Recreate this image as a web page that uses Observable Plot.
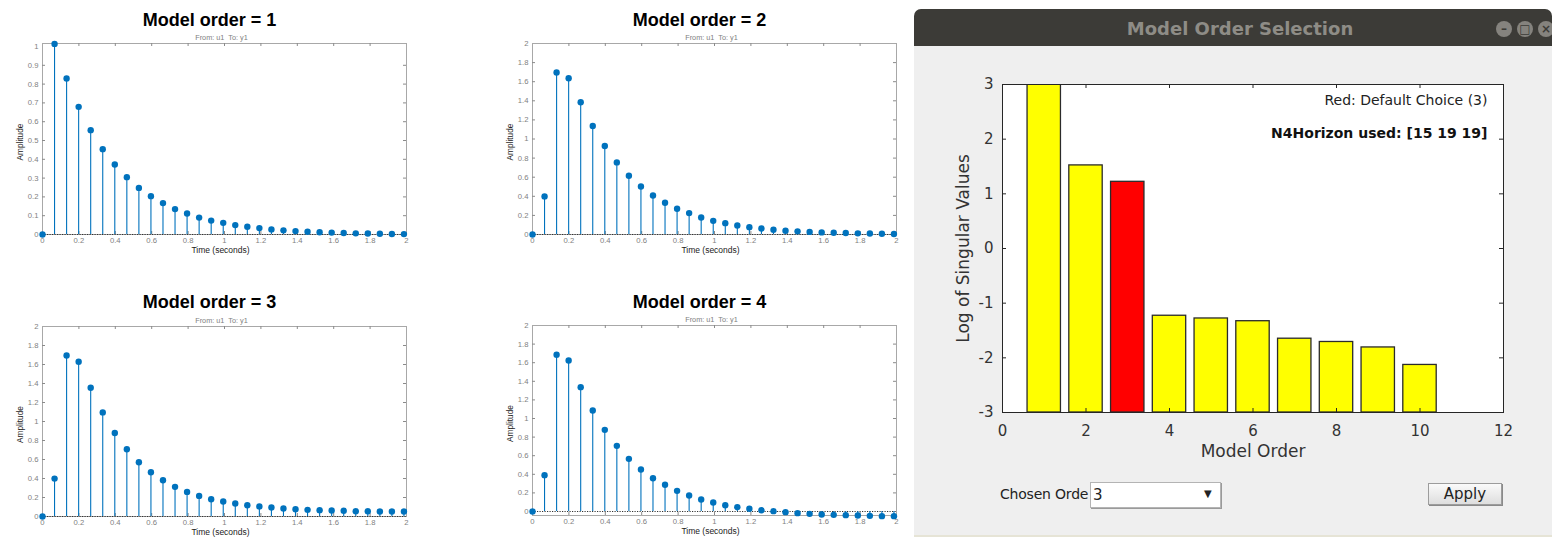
<!DOCTYPE html>
<html>
<head>
<meta charset="utf-8">
<script src="https://cdn.jsdelivr.net/npm/d3@7"></script>
<script src="https://cdn.jsdelivr.net/npm/@observablehq/plot@0.6"></script>
<style>
  html, body { margin: 0; padding: 0; background: #ffffff; }
  body { width: 1552px; height: 538px; position: relative; overflow: hidden; }
  .abs { position: absolute; }
  .win { left: 914px; top: 9px; width: 638px; height: 526px; background: #efefef; border-radius: 7px 7px 0 0; border-bottom: 2px solid #e6e4d6; }
  .titlebar { left: 0; top: 0; width: 638px; height: 37px; background: #3c3b37; border-radius: 7px 7px 0 0;
    color: #8e8c86; font: bold 18px "DejaVu Sans", sans-serif; text-align: center; line-height: 40px; }
  .titlebar span.t { position: absolute; left: 0; width: 652px; top: 0; text-align: center; }
  .btn { position: absolute; top: 12px; width: 16px; height: 16px; border-radius: 50%; background: #85837e;
    color: #3c3b37; font: bold 12px "DejaVu Sans", sans-serif; line-height: 16px; text-align: center; }
  .ctl { font: 14px "DejaVu Sans", sans-serif; color: #222; }
</style>
</head>
<body>
<div id="sp1" class="abs" style="left:0;top:0"></div>
<div id="sp2" class="abs" style="left:420px;top:0"></div>
<div id="sp3" class="abs" style="left:0;top:280px"></div>
<div id="sp4" class="abs" style="left:420px;top:280px"></div>

<div class="abs win">
  <div class="abs titlebar"><span class="t">Model Order Selection</span>
    <div class="btn" style="left:582px">&#8211;</div>
    <div class="btn" style="left:603px">&#9633;</div>
    <div class="btn" style="left:624px">&#215;</div>
  </div>
</div>
<div id="sv" class="abs" style="left:915px;top:47px"></div>
<div class="abs ctl" style="left:1000px;top:486px;white-space:nowrap;letter-spacing:-0.2px">Chosen Orde</div>
<div class="abs ctl" style="left:1090px;top:482px;width:129px;height:24px;background:#fff;border:1px solid #b4b4b4;box-shadow:1px 1px 0 #9a9a9a;">
  <span class="abs" style="left:2px;top:3px;font-size:15px">3</span>
  <span class="abs" style="left:113px;top:5px;font-size:10px">&#9660;</span>
</div>
<div class="abs ctl" style="left:1428px;top:483px;width:72px;height:20px;border:1px solid #9c9c9c;background:linear-gradient(#fafafa,#dedede);text-align:center;line-height:20px;font-size:15px;box-shadow:1px 1px 0 #8a8a8a;">Apply</div>

<script>
// ---------- data ----------
const sampleTime = 0.0662;            // seconds between impulse-response samples
const sampleCount = 31;
const timeTicks = [0, 0.2, 0.4, 0.6, 0.8, 1, 1.2, 1.4, 1.6, 1.8, 2];
const ampTicksOrder1 = [0, 0.1, 0.2, 0.3, 0.4, 0.5, 0.6, 0.7, 0.8, 0.9, 1];
const ampTicks = [0, 0.2, 0.4, 0.6, 0.8, 1, 1.2, 1.4, 1.6, 1.8, 2];

const order1 = [0, 1.014, 0.830, 0.679, 0.555, 0.454, 0.372, 0.305, 0.248, 0.204, 0.167, 0.135, 0.112, 0.090, 0.074, 0.062, 0.050, 0.041, 0.034, 0.027, 0.022, 0.018, 0.015, 0.012, 0.010, 0.008, 0.006, 0.005, 0.004, 0.003, 0.002];
const order2 = [0, 0.399, 1.696, 1.636, 1.385, 1.136, 0.927, 0.755, 0.615, 0.503, 0.409, 0.332, 0.269, 0.224, 0.178, 0.143, 0.119, 0.094, 0.077, 0.063, 0.050, 0.040, 0.033, 0.027, 0.022, 0.018, 0.015, 0.012, 0.010, 0.008, 0.006];
const order3 = [0, 0.399, 1.695, 1.629, 1.356, 1.096, 0.879, 0.708, 0.571, 0.466, 0.382, 0.312, 0.259, 0.217, 0.182, 0.158, 0.137, 0.119, 0.105, 0.095, 0.084, 0.077, 0.070, 0.067, 0.063, 0.060, 0.056, 0.056, 0.053, 0.053, 0.052];
const order4 = [0, 0.391, 1.685, 1.624, 1.337, 1.086, 0.878, 0.706, 0.566, 0.452, 0.358, 0.287, 0.222, 0.172, 0.129, 0.097, 0.068, 0.047, 0.029, 0.014, 0.004, -0.007, -0.018, -0.025, -0.032, -0.036, -0.039, -0.043, -0.047, -0.050, -0.050];

const modelOrders = [1, 2, 3, 4, 5, 6, 7, 8, 9, 10];
const logSingularValues = [4.3, 1.52, 1.22, -1.23, -1.28, -1.33, -1.65, -1.71, -1.81, -2.13];
const defaultChoice = 3;
const orderTicks = [0, 2, 4, 6, 8, 10, 12];
const svTicks = [-3, -2, -1, 0, 1, 2, 3];

const times = d3.range(sampleCount).map(i => i * sampleTime);

// ---------- stem subplots ----------
function stemPlot(cfg) {
  const data = times.map((t, i) => ({t, v: cfg.values[i]}));
  const ph = cfg.height - cfg.mt - cfg.mb;
  const pw = cfg.width - cfg.ml - cfg.mr;
  const blue = "#0072BD";
  const fmt = d => String(+d.toFixed(1));
  return Plot.plot({
    width: cfg.width, height: cfg.height,
    marginTop: cfg.mt, marginBottom: cfg.mb, marginLeft: cfg.ml, marginRight: cfg.mr,
    style: {fontFamily: "'Liberation Sans', Arial, sans-serif", fontSize: "7.7px", background: "transparent", overflow: "visible"},
    x: {domain: [0, 2]},
    y: {domain: cfg.yDomain},
    marks: [
      Plot.frame({stroke: "#a8a8a8"}),
      Plot.ruleX(timeTicks.slice(1, -1), {x: d => d, insetTop: ph - 3, stroke: "#8a8a8a"}),
      Plot.ruleX(timeTicks.slice(1, -1), {x: d => d, insetBottom: ph - 3, stroke: "#8a8a8a"}),
      Plot.ruleY(cfg.yTicks.slice(1, -1), {y: d => d, insetRight: pw - 3, stroke: "#8a8a8a"}),
      Plot.ruleY(cfg.yTicks.slice(1, -1), {y: d => d, insetLeft: pw - 3, stroke: "#8a8a8a"}),
      Plot.axisX({ticks: timeTicks, tickSize: 0, tickPadding: 3, tickFormat: fmt, color: "#7f7f7f", label: null}),
      Plot.axisY({ticks: cfg.yTicks, tickSize: 0, tickPadding: 4, tickFormat: fmt, color: "#7f7f7f", label: null}),
      Plot.ruleY([0], {y: d => d, stroke: "#333", strokeDasharray: "1.2,1.3", strokeWidth: 1}),
      Plot.ruleX(data, {x: "t", y1: () => 0, y2: "v", stroke: blue, strokeWidth: 1.1}),
      Plot.dot(data, {x: "t", y: "v", r: 3.2, fill: blue, stroke: "none"}),
      Plot.text([cfg.title], {text: d => d, frameAnchor: "top", textAnchor: "middle", dy: cfg.titleDy, dx: -15, fontSize: 18, fontWeight: "bold", fill: "#000"}),
      Plot.text(["From: u1  To: y1"], {text: d => d, frameAnchor: "top", textAnchor: "middle", dy: -9, dx: -3, fontSize: 7.3, fill: "#808080"}),
      Plot.text(["Amplitude"], {text: d => d, frameAnchor: "left", textAnchor: "middle", dx: -22, dy: 3, rotate: -90, fontSize: 8.3, fill: "#222"}),
      Plot.text(["Time (seconds)"], {text: d => d, frameAnchor: "bottom", textAnchor: "middle", dy: 18, dx: -4, fontSize: 8.5, fill: "#222"})
    ]
  });
}

document.getElementById("sp1").append(stemPlot({values: order1, title: "Model order = 1", titleDy: -30, width: 420, height: 270, ml: 42, mr: 14, mt: 43, mb: 36, yDomain: [0, 1.016], yTicks: ampTicksOrder1}));
document.getElementById("sp2").append(stemPlot({values: order2, title: "Model order = 2", titleDy: -30, width: 490, height: 270, ml: 112, mr: 14, mt: 43, mb: 36, yDomain: [0, 2], yTicks: ampTicks}));
document.getElementById("sp3").append(stemPlot({values: order3, title: "Model order = 3", titleDy: -31, width: 420, height: 258, ml: 42, mr: 14, mt: 46, mb: 22, yDomain: [0, 2], yTicks: ampTicks}));
document.getElementById("sp4").append(stemPlot({values: order4, title: "Model order = 4", titleDy: -30, width: 490, height: 258, ml: 112, mr: 14, mt: 45, mb: 23, yDomain: [-0.043, 2], yTicks: ampTicks}));

// ---------- singular values bar chart ----------
const bars = modelOrders.map((o, i) => ({order: o, value: logSingularValues[i]}));
const svW = 637, svH = 440, svML = 87, svMR = 49, svMT = 37, svMB = 75;
const svPH = svH - svMT - svMB, svPW = svW - svML - svMR;
const yMin = svTicks[0];
const svPlot = Plot.plot({
  width: svW, height: svH,
  marginLeft: svML, marginRight: svMR, marginTop: svMT, marginBottom: svMB,
  style: {fontFamily: "'DejaVu Sans', sans-serif", fontSize: "15px", background: "transparent", overflow: "visible"},
  x: {domain: [0, 12]},
  y: {domain: [-3, 3]},
  marks: [
    Plot.frame({fill: "#ffffff", stroke: "none"}),
    Plot.rectY(bars, {x1: d => d.order - 0.4, x2: d => d.order + 0.4, y1: () => yMin, y2: "value",
      fill: d => d.order === defaultChoice ? "#ff0000" : "#ffff00", stroke: "#2b2b2b", strokeWidth: 1.3, clip: true}),
    Plot.frame({stroke: "#262626", strokeWidth: 1}),
    Plot.ruleX(orderTicks.slice(1, -1), {x: d => d, insetTop: svPH - 4, stroke: "#262626"}),
    Plot.ruleX(orderTicks.slice(1, -1), {x: d => d, insetBottom: svPH - 4, stroke: "#262626"}),
    Plot.ruleY(svTicks.slice(1, -1), {y: d => d, insetRight: svPW - 4, stroke: "#262626"}),
    Plot.ruleY(svTicks.slice(1, -1), {y: d => d, insetLeft: svPW - 4, stroke: "#262626"}),
    Plot.axisX({ticks: orderTicks, tickSize: 0, tickPadding: 13, tickFormat: d => String(d), color: "#333", label: null}),
    Plot.axisY({ticks: svTicks, tickSize: 0, tickPadding: 9, tickFormat: d => String(d), color: "#333", label: null}),
    Plot.text(["Red: Default Choice (3)"], {text: d => d, frameAnchor: "top-right", textAnchor: "end", dx: -16, dy: 11, fontSize: 14, fill: "#222"}),
    Plot.text(["N4Horizon used: [15 19 19]"], {text: d => d, frameAnchor: "top-right", textAnchor: "end", dx: -16, dy: 44, fontSize: 14, fontWeight: "bold", fill: "#111"}),
    Plot.text(["Log of Singular Values"], {text: d => d, frameAnchor: "left", textAnchor: "middle", dx: -39, rotate: -90, fontSize: 17, fill: "#333"}),
    Plot.text(["Model Order"], {text: d => d, frameAnchor: "bottom", textAnchor: "middle", dy: 44, fontSize: 17, fill: "#333"})
  ]
});
document.getElementById("sv").append(svPlot);
</script>
</body>
</html>
